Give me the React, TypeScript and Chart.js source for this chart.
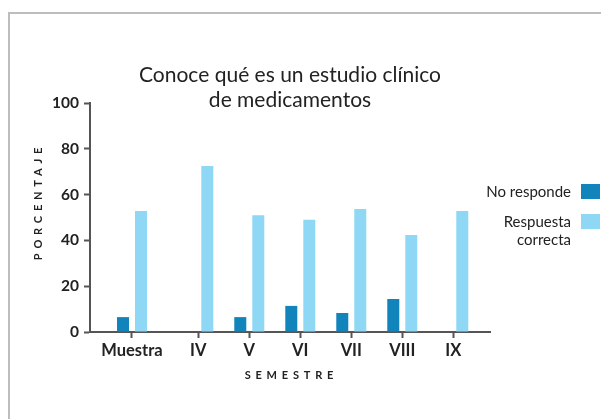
import React, { useEffect, useRef } from "react";
import { Chart, registerables } from "chart.js";

Chart.register(...registerables);

// ---- data ----
const CATEGORIES = ["Muestra", "IV", "V", "VI", "VII", "VIII", "IX"];
const NO_RESPONDE = [6.5, null, 6.5, 11.4, 8.3, 14.4, null];
const RESPUESTA_CORRECTA = [52.8, 72.5, 51, 49, 53.7, 42.4, 52.8];
const SERIES_LABELS = [["No responde"], ["Respuesta", "correcta"]];
const Y_TICKS = [0, 20, 40, 60, 80, 100];
const TITLE_LINES = ["Conoce qué es un estudio clínico", "de medicamentos"];
const X_TITLE = "SEMESTRE";
const Y_TITLE = "PORCENTAJE";

// ---- layout / style ----
const SAMPLE_GAP = 0.3; // extra space separating "Muestra" from the semesters
const DARK = "#1184bc";
const LIGHT = "#8ed8f6";
const AXIS = "#555555";
const TEXT = "#222222";
const FONT = "Lato, 'Open Sans', sans-serif";

const groupPositions = CATEGORIES.map((_, i) => i + (i > 0 ? SAMPLE_GAP : 0));

const decorPlugin = {
  id: "decor",
  afterDraw(chart: any) {
    const ctx = chart.ctx as CanvasRenderingContext2D;
    const W = chart.width;
    const H = chart.height;
    ctx.save();
    // frame
    ctx.fillStyle = "#bdbdbd";
    ctx.fillRect(0, 4, W, 2);
    ctx.fillRect(0, 4, 2, H - 4);

    // title
    ctx.fillStyle = TEXT;
    ctx.font = `21px ${FONT}`;
    ctx.textAlign = "center";
    ctx.textBaseline = "alphabetic";
    TITLE_LINES.forEach((line, i) => ctx.fillText(line, 282, 74 + i * 25));

    // axis titles with letter spacing
    const spaced = (text: string, cx: number, cy: number, rot: number) => {
      const ls = 4.8;
      ctx.save();
      ctx.translate(cx, cy);
      ctx.rotate(rot);
      ctx.font = `bold 11px ${FONT}`;
      (ctx as any).letterSpacing = `${ls}px`;
      ctx.textAlign = "left";
      ctx.textBaseline = "middle";
      const w = ctx.measureText(text).width - ls;
      ctx.fillStyle = TEXT;
      ctx.fillText(text, -w / 2, 0);
      ctx.restore();
    };
    spaced(X_TITLE, 281, 367, 0);
    spaced(Y_TITLE, 30, 196, -Math.PI / 2);

    // legend
    ctx.font = `15px ${FONT}`;
    ctx.textAlign = "right";
    ctx.textBaseline = "middle";
    const starts = [184, 214];
    chart.data.datasets.forEach((ds: any, i: number) => {
      const lines = SERIES_LABELS[i];
      ctx.fillStyle = TEXT;
      lines.forEach((l, j) => ctx.fillText(l, 563, starts[i] + j * 18));
      ctx.fillStyle = ds.backgroundColor;
      ctx.fillRect(573, starts[i] - 8, 19, 15);
    });
    ctx.restore();
  },
};

export default function App() {
  const ref = useRef<HTMLCanvasElement | null>(null);
  useEffect(() => {
    if (!ref.current) return;
    const chart = new Chart(ref.current, {
      type: "bar",
      data: {
        datasets: [
          {
            label: SERIES_LABELS[0].join(" "),
            data: NO_RESPONDE.map((v, i) => ({ x: groupPositions[i], y: v })) as any,
            backgroundColor: DARK,
          },
          {
            label: SERIES_LABELS[1].join(" "),
            data: RESPUESTA_CORRECTA.map((v, i) => ({ x: groupPositions[i], y: v })) as any,
            backgroundColor: LIGHT,
          },
        ],
      },
      options: {
        responsive: false,
        animation: false,
        categoryPercentage: 0.706,
        barPercentage: 0.667,
        layout: { padding: { top: 95, right: 119, bottom: 0, left: 0 } },
        plugins: {
          legend: { display: false },
          title: { display: false },
          tooltip: { enabled: false },
        },
        scales: {
          x: {
            type: "linear",
            min: -0.8235,
            max: 7.02,
            offset: false,
            grid: {
              offset: false,
              drawOnChartArea: false,
              drawTicks: true,
              tickLength: 6,
              tickWidth: 2,
              tickColor: AXIS,
            },
            border: { display: true, color: AXIS, width: 2 },
            afterBuildTicks: (scale: any) => {
              scale.ticks = groupPositions.map((v) => ({ value: v }));
            },
            afterFit: (scale: any) => {
              scale.height = 87;
            },
            ticks: {
              autoSkip: false,
              maxRotation: 0,
              padding: 3,
              color: TEXT,
              font: { family: FONT, size: 16.5, weight: "bold" },
              callback: (_v: any, i: number) => CATEGORIES[i],
            },
          },
          y: {
            min: 0,
            max: 100,
            grid: {
              drawOnChartArea: false,
              drawTicks: true,
              tickLength: 6,
              tickWidth: 2,
              tickColor: AXIS,
            },
            border: { display: true, color: AXIS, width: 2 },
            afterBuildTicks: (scale: any) => {
              scale.ticks = Y_TICKS.map((v) => ({ value: v }));
            },
            afterFit: (scale: any) => {
              scale.width = 82;
            },
            ticks: {
              padding: 5,
              color: TEXT,
              font: { family: FONT, size: 15.5, weight: "bold" },
            },
          },
        },
      },
      plugins: [decorPlugin],
    });
    return () => chart.destroy();
  }, []);
  return (
    <div style={{ width: 601, height: 411 }}>
      <canvas ref={ref} width={601} height={411} />
    </div>
  );
}
